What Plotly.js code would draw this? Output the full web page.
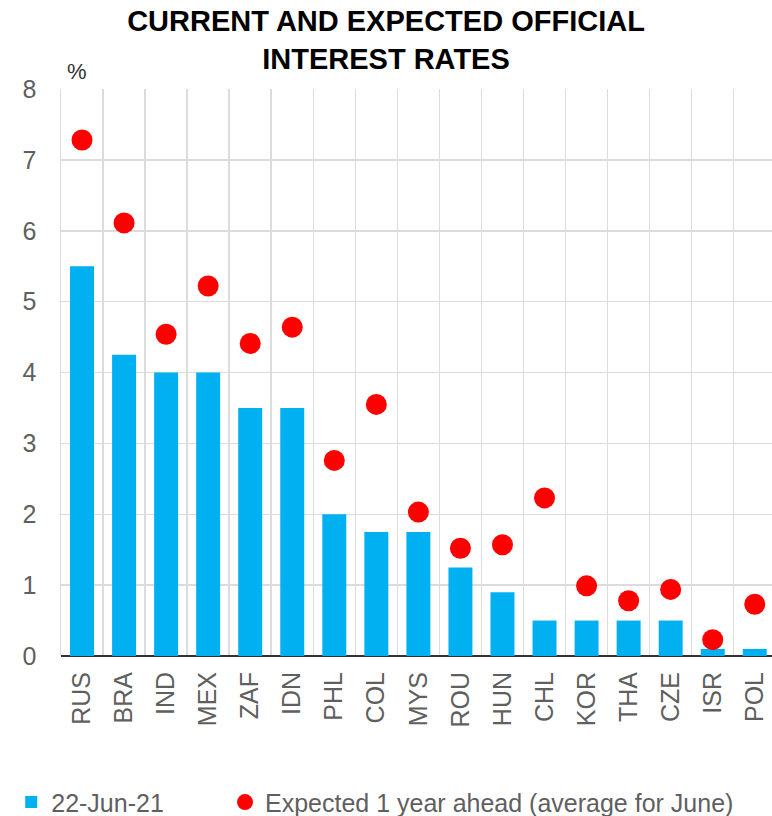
<!DOCTYPE html>
<html>
<head>
<meta charset="utf-8">
<script src="https://cdn.plot.ly/plotly-3.0.1.min.js"></script>
<style>html,body{margin:0;padding:0;background:#fff;}#chart{width:772px;height:816px;}</style>
</head>
<body>
<div id="chart"></div>
<script>
const countries = ["RUS","BRA","IND","MEX","ZAF","IDN","PHL","COL","MYS","ROU","HUN","CHL","KOR","THA","CZE","ISR","POL"];
const currentRate = [5.5,4.25,4.0,4.0,3.5,3.5,2.0,1.75,1.75,1.25,0.9,0.5,0.5,0.5,0.5,0.1,0.1];
const expectedRate = [7.28,6.11,4.54,5.22,4.41,4.64,2.76,3.55,2.03,1.52,1.57,2.23,0.99,0.78,0.94,0.23,0.73];
const yTicks = [0,1,2,3,4,5,6,7,8];
const seriesNames = ["22-Jun-21","Expected 1 year ahead (average for June)"];

const FONT = "Liberation Sans, Arial, Helvetica, sans-serif";
const GRAY = "#5f5f5f";

const traces = [
  {
    type: "bar",
    name: seriesNames[0],
    x: countries,
    y: currentRate,
    marker: {color: "#00B0F0"},
    legend: "legend",
    hoverinfo: "x+y"
  },
  {
    type: "scatter",
    mode: "markers",
    name: seriesNames[1],
    x: countries,
    y: expectedRate,
    marker: {color: "#FF0000", size: 21},
    legend: "legend2",
    hoverinfo: "x+y"
  }
];

const legendCommon = {
  orientation: "h",
  xanchor: "left",
  y: -0.258, yanchor: "middle",
  font: {family: FONT, size: 25, color: GRAY},
  itemwidth: 30,
  bgcolor: "rgba(0,0,0,0)"
};

const layout = {
  width: 772,
  height: 816,
  margin: {l: 61, r: 0, t: 89, b: 160, autoexpand: false},
  paper_bgcolor: "#ffffff",
  plot_bgcolor: "#ffffff",
  font: {family: FONT, color: GRAY, size: 22},
  title: {
    text: "CURRENT AND EXPECTED OFFICIAL<br>INTEREST RATES",
    font: {family: FONT, size: 29, color: "#000000", weight: "bold"},
    x: 0.5, xanchor: "center", xref: "container",
    y: 0.962, yanchor: "middle", yref: "container"
  },
  bargap: 0.43,
  showlegend: true,
  legend: Object.assign({}, legendCommon, {x: -0.07}),
  legend2: Object.assign({}, legendCommon, {x: 0.2307}),
  xaxis: {
    type: "category",
    range: [-0.5, 16.41],
    tickson: "boundaries",
    showgrid: true,
    gridcolor: "#dcdcdc",
    gridwidth: 1.5,
    ticks: "",
    tickangle: -90,
    ticklabelstandoff: 10,
    tickfont: {family: FONT, size: 25, color: GRAY},
    showline: false,
    zeroline: false,
    automargin: false,
    fixedrange: true
  },
  yaxis: {
    range: [0, 8],
    tickvals: yTicks,
    ticktext: yTicks.map(String),
    showgrid: true,
    gridcolor: "#dcdcdc",
    gridwidth: 1.5,
    zeroline: true,
    zerolinecolor: "#333333",
    zerolinewidth: 2,
    ticks: "",
    ticklabelstandoff: 18,
    tickfont: {family: FONT, size: 25, color: GRAY},
    showline: true,
    linecolor: "#dcdcdc",
    linewidth: 1.5,
    automargin: false,
    fixedrange: true
  },
  annotations: [
    {
      text: "%",
      xref: "paper", yref: "paper",
      x: 0.006, y: 1.005,
      xanchor: "left", yanchor: "bottom",
      showarrow: false,
      font: {family: FONT, size: 22, color: "#333333"}
    }
  ]
};

Plotly.newPlot("chart", traces, layout, {displayModeBar: false, staticPlot: true});
</script>
</body>
</html>
